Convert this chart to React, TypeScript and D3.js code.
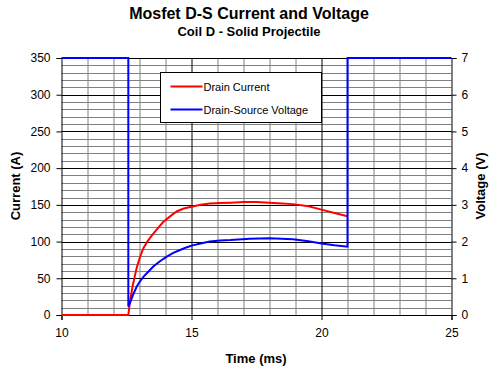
import React, { useEffect, useRef } from "react";
import * as d3 from "d3";

// current trace (A) vs time (ms)
const currentTime = [10, 12.57, 12.63, 12.75, 12.89, 13.0, 13.15, 13.3, 13.47, 13.7, 13.92, 14.2, 14.43, 14.7, 15.0, 15.35, 15.7, 16.1, 16.5, 17.0, 17.5, 18.0, 18.5, 18.9, 19.5, 20.0, 20.5, 21.0];
const currentVals = [0, 0, 18, 42, 64, 77, 91, 100, 108, 118, 127, 135, 141, 145, 147.5, 150, 152, 152.5, 153, 154, 154, 153, 152, 151, 148, 143.5, 139, 134.5];

// drain-source voltage (V) vs time (ms)
const voltageTime = [10, 12.57, 12.57, 12.63, 12.75, 12.89, 13.0, 13.15, 13.3, 13.53, 13.8, 14.05, 14.3, 14.56, 14.8, 15.0, 15.35, 15.7, 16.1, 16.5, 17.25, 18.0, 18.9, 19.5, 20.0, 20.5, 21.0, 21.0, 25];
const voltageVals = [7, 7, 0.23, 0.32, 0.55, 0.77, 0.9, 1.04, 1.15, 1.32, 1.47, 1.59, 1.69, 1.77, 1.84, 1.89, 1.95, 2.0, 2.03, 2.04, 2.08, 2.09, 2.06, 2.01, 1.95, 1.9, 1.86, 7, 7];

const timeTicks = [10, 15, 20, 25];
const currentTicks = [0, 50, 100, 150, 200, 250, 300, 350];
const voltageTicks = [0, 1, 2, 3, 4, 5, 6, 7];

const seriesNames = ["Drain Current", "Drain-Source Voltage"];
const seriesColors = ["#ff0000", "#0000ff"];

export default function App() {
  const ref = useRef(null);

  useEffect(() => {
    const el = ref.current;
    if (!el) return;
    const W = 499, H = 375;
    const margin = { top: 58, left: 61.5 };
    const width = 390, height = 257;
    const font = "'Liberation Sans', Arial, sans-serif";

    const svg = d3.select(el).append("svg")
      .attr("width", W).attr("height", H)
      .style("position", "absolute").style("left", 0).style("top", 0)
      .style("font-family", font);

    svg.append("rect").attr("width", W).attr("height", H).attr("fill", "#fff");

    const x = d3.scaleLinear().domain([10, 25]).range([0, width]);
    const yL = d3.scaleLinear().domain([0, 350]).range([height, 0]);
    const yR = d3.scaleLinear().domain([0, 7]).range([height, 0]);

    const g = svg.append("g").attr("transform", `translate(${margin.left},${margin.top})`);
    const px = v => Math.round(v) + 0.5;

    // minor grid
    g.append("g").selectAll("line").data(d3.range(11, 25).filter(d => d % 5 !== 0)).join("line")
      .attr("x1", d => px(x(d))).attr("x2", d => px(x(d)))
      .attr("y1", 0).attr("y2", height).attr("stroke", "#808080");
    g.append("g").selectAll("line").data(d3.range(10, 351, 10).filter(d => d % 50 !== 0)).join("line")
      .attr("y1", d => px(yL(d))).attr("y2", d => px(yL(d)))
      .attr("x1", 0).attr("x2", width).attr("stroke", "#808080");
    // major grid
    g.append("g").selectAll("line").data([15, 20]).join("line")
      .attr("x1", d => px(x(d))).attr("x2", d => px(x(d)))
      .attr("y1", 0).attr("y2", height).attr("stroke", "#000");
    g.append("g").selectAll("line").data(currentTicks.filter(d => d > 0)).join("line")
      .attr("y1", d => px(yL(d))).attr("y2", d => px(yL(d)))
      .attr("x1", 0).attr("x2", width).attr("stroke", "#000");

    // axes
    const axX = g.append("g").attr("transform", `translate(0,${height})`)
      .call(d3.axisBottom(x).tickValues(timeTicks).tickSizeOuter(0).tickSize(5).tickPadding(8));
    const axL = g.append("g")
      .call(d3.axisLeft(yL).tickValues(currentTicks).tickSizeOuter(0).tickSize(5).tickPadding(6));
    const axR = g.append("g").attr("transform", `translate(${width},0)`)
      .call(d3.axisRight(yR).tickValues(voltageTicks).tickFormat(d3.format("d")).tickSizeOuter(0).tickSize(5).tickPadding(5));
    [axX, axL, axR].forEach(a => {
      a.selectAll("text").attr("font-size", 12).attr("font-family", font).attr("fill", "#000");
      a.selectAll("line,path").attr("stroke", "#000");
    });

    const lineC = d3.line<number>().x((d, i) => x(currentTime[i])).y(d => yL(d));
    const lineV = d3.line<number>().x((d, i) => x(voltageTime[i])).y(d => yR(d));

    g.append("path").datum(currentVals).attr("d", lineC)
      .attr("fill", "none").attr("stroke", seriesColors[0]).attr("stroke-width", 2);
    g.append("path").datum(voltageVals).attr("d", lineV)
      .attr("fill", "none").attr("stroke", seriesColors[1]).attr("stroke-width", 2);

    // legend
    const lg = svg.append("g").attr("transform", "translate(160.5,72.5)");
    lg.append("rect").attr("width", 161).attr("height", 50).attr("fill", "#fff").attr("stroke", "#000");
    seriesNames.forEach((name, i) => {
      const yy = 14 + i * 23;
      lg.append("line").attr("x1", 10).attr("x2", 42).attr("y1", yy).attr("y2", yy)
        .attr("stroke", seriesColors[i]).attr("stroke-width", 2);
      lg.append("text").attr("x", 43).attr("y", yy + 4).attr("font-size", 11).text(name);
    });

    // titles
    svg.append("text").attr("x", 249).attr("y", 19).attr("text-anchor", "middle")
      .attr("font-size", 16).attr("font-weight", "bold").text("Mosfet D-S Current and Voltage");
    svg.append("text").attr("x", 249).attr("y", 36).attr("text-anchor", "middle")
      .attr("font-size", 13).attr("font-weight", "bold").text("Coil D - Solid Projectile");
    svg.append("text").attr("x", 256).attr("y", 363).attr("text-anchor", "middle")
      .attr("font-size", 13).attr("font-weight", "bold").text("Time (ms)");
    svg.append("text").attr("transform", "translate(19.5,186) rotate(-90)").attr("text-anchor", "middle")
      .attr("font-size", 13).attr("font-weight", "bold").text("Current (A)");
    svg.append("text").attr("transform", "translate(485,186) rotate(-90)").attr("text-anchor", "middle")
      .attr("font-size", 13).attr("font-weight", "bold").text("Voltage (V)");

    return () => { d3.select(el).select("svg").remove(); };
  }, []);

  return <div ref={ref} />;
}
